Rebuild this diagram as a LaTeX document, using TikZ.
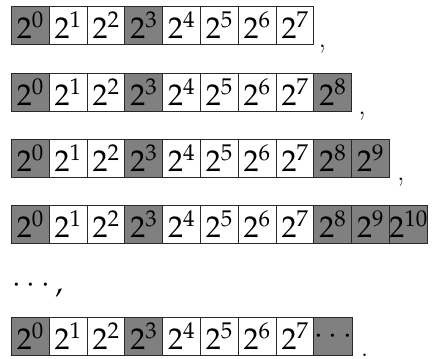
\documentclass[tikz,border=0pt]{standalone}
\usepackage{mathpazo}
\definecolor{cellgray}{RGB}{128,128,128}
\definecolor{celledge}{RGB}{40,40,40}
\tikzset{
  cell/.style={draw=celledge, line width=0.9pt, minimum width=37.8pt, minimum height=37.6pt,
    inner sep=0pt, anchor=north west, font=\fontsize{30}{35}\selectfont},
  dark/.style={cell, fill=cellgray},
  light/.style={cell, fill=white},
  punct/.style={inner sep=0pt, anchor=base west, font=\fontsize{30}{35}\selectfont}
}
\begin{document}
\begin{tikzpicture}[x=1pt,y=-1pt]
\useasboundingbox (0,0) rectangle (438,358);
% row 1
\foreach \e/\s [count=\i from 0] in {0/dark,1/light,2/light,3/dark,4/light,5/light,6/light,7/light}
  \node[\s] (a\i) at (11+37.8*\i,6) {$2^{\e}$};
\node[punct] (ca) at ([xshift=4pt,yshift=-3pt]a7.south east) {,};
% row 2
\foreach \e/\s [count=\i from 0] in {0/dark,1/light,2/light,3/dark,4/light,5/light,6/light,7/light,8/dark}
  \node[\s] (b\i) at (11+37.8*\i,73) {$2^{\e}$};
\node[punct] (cb) at ([xshift=6pt,yshift=-3pt]b8.south east) {,};
% row 3
\foreach \e/\s [count=\i from 0] in {0/dark,1/light,2/light,3/dark,4/light,5/light,6/light,7/light,8/dark,9/dark}
  \node[\s] (c\i) at (11+37.8*\i,139) {$2^{\e}$};
\node[punct] (cc) at ([xshift=7pt,yshift=-3pt]c9.south east) {,};
% row 4
\foreach \e/\s [count=\i from 0] in {0/dark,1/light,2/light,3/dark,4/light,5/light,6/light,7/light,8/dark,9/dark,10/dark}
  \node[\s] (d\i) at (11+37.8*\i,205) {$2^{\e}$};
% dots
\node[punct] (dots) at (12,292) {$\cdots,$};
% row 6
\foreach \e/\s [count=\i from 0] in {0/dark,1/light,2/light,3/dark,4/light,5/light,6/light,7/light}
  \node[\s] (e\i) at (11+37.8*\i,317) {$2^{\e}$};
\node[dark] (e8) at (11+37.8*8,317) {$\cdots$};
\node[punct] (ce) at ([xshift=8pt,yshift=-1pt]e8.south east) {.};
\end{tikzpicture}
\end{document}
